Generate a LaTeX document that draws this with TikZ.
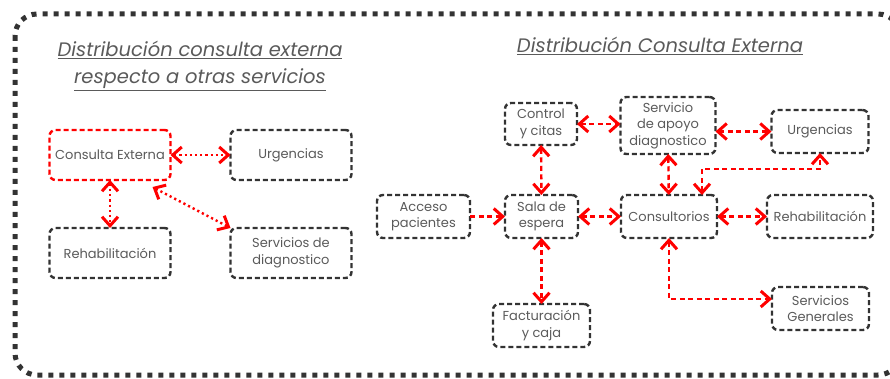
\documentclass[tikz,border=0pt]{standalone}
\usepackage{fontspec}
\setmainfont{Poppins}
\usetikzlibrary{arrows.meta}
\definecolor{boxline}{HTML}{333333}
\definecolor{txt}{HTML}{5A5A5A}
\definecolor{link}{HTML}{FF0000}
\tikzset{
  vtip/.tip={Straight Barb[length=9pt, width=16pt, line width=3pt]},
  box/.style={draw=boxline, line width=2.4pt, dash pattern=on 5pt off 3pt,
    rounded corners=6pt, align=center, text=txt, font=\fontsize{13}{16.5}\selectfont,
    inner sep=1pt, outer sep=0pt},
  hot/.style={box, draw=link},
  dotlink/.style={draw=link, line width=2.4pt, dash pattern=on 2.2pt off 3pt, {vtip}-{vtip}},
  dashlink/.style={draw=link, line width=2.4pt, dash pattern=on 5pt off 3.5pt, {vtip}-{vtip}},
  heading/.style={text=txt, font=\fontsize{19.5}{27}\selectfont\itshape, align=center},
}
\begin{document}
\begin{tikzpicture}[x=1pt, y=-1pt]
\useasboundingbox (0,0) rectangle (890,379);
% outer frame
\begin{scope}
\clip (0,0) rectangle (890,379);
\draw[boxline, line width=5pt, dash pattern=on 5pt off 6pt, rounded corners=22pt]
  (15,14) rectangle (900,375);
\end{scope}

% ---- left: overview ----
\node[heading] (t1) at (200,66) {\underline{Distribución consulta externa}\\\underline{respecto a otras servicios}};
\node[hot, minimum width=121pt, minimum height=50pt] (ce) at (110,155) {Consulta Externa};
\node[box, minimum width=121pt, minimum height=50pt] (urg) at (291,155) {Urgencias};
\node[box, minimum width=121pt, minimum height=50pt] (reh) at (110,253) {Rehabilitación};
\node[box, minimum width=121pt, minimum height=50pt] (sdx) at (291,253) {Servicios de\\diagnostico};

\draw[dotlink] (ce) -- (urg);
\draw[dotlink] (ce) -- (reh);
\draw[dotlink] ([xshift=-18pt,yshift=-7pt]ce.south east) -- (sdx.north west);

% ---- right: detailed layout ----
\node[heading] (t2) at (660,46) {\underline{Distribución Consulta Externa}};
\node[box, minimum width=72pt, minimum height=42pt] (ctl) at (541,124) {Control\\y citas};
\node[box, minimum width=95pt, minimum height=57pt] (apo) at (668,125.5) {Servicio\\de apoyo\\diagnostico};
\node[box, minimum width=97pt, minimum height=43pt] (urg2) at (820,131.5) {Urgencias};
\node[box, minimum width=93pt, minimum height=43pt] (acc) at (423.5,216.5) {Acceso\\pacientes};
\node[box, minimum width=73pt, minimum height=43pt] (sala) at (541.5,216.5) {Sala de\\espera};
\node[box, minimum width=96pt, minimum height=43pt] (cons) at (669,216.5) {Consultorios};
\node[box, minimum width=106pt, minimum height=43pt] (reh2) at (820,216.5) {Rehabilitación};
\node[box, minimum width=97pt, minimum height=43pt] (fac) at (541.5,325.5) {Facturación\\y caja};
\node[box, minimum width=97pt, minimum height=43pt] (sgen) at (820.5,308.5) {Servicios\\Generales};

\draw[dashlink] (ctl.east) -- (ctl.east -| apo.west);
\draw[dashlink] (apo.east |- urg2.west) -- (urg2.west);
\draw[dashlink] (ctl) -- (sala);
\draw[dashlink] (apo) -- (cons);
\draw[dashlink] ([xshift=33pt]cons.north) -- ++(0,-26) -| (urg2.south);
\draw[dashlink, -{vtip}] (acc) -- (sala);
\draw[dashlink] (sala) -- (cons);
\draw[dashlink] (cons) -- (reh2);
\draw[dashlink] (sala) -- (fac);
\draw[dashlink] (cons.south) |- ([yshift=9.5pt]sgen.west);
\end{tikzpicture}
\end{document}
